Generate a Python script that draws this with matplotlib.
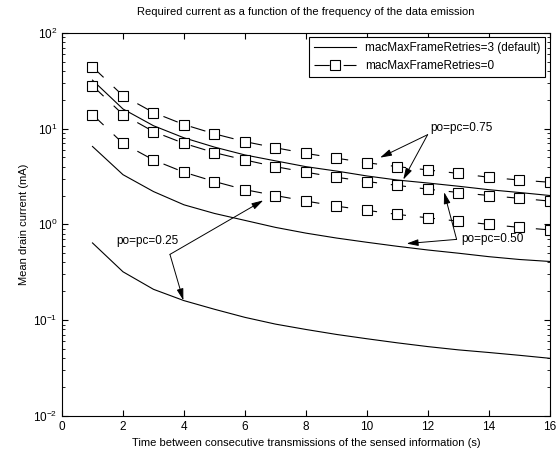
import numpy as np
import matplotlib
matplotlib.use("Agg")
from matplotlib import pyplot as plt

plt.rcParams['font.family'] = ['Liberation Sans', 'DejaVu Sans']
plt.rcParams['mathtext.fontset'] = 'custom'
plt.rcParams['mathtext.rm'] = 'Liberation Sans'
plt.rcParams['mathtext.default'] = 'regular'
plt.rcParams['lines.scale_dashes'] = False

# time between transmissions (s)
t = [1, 2, 3, 4, 5, 6, 7, 8, 9, 10, 11, 12, 13, 14, 15, 16]

# macMaxFrameRetries=3 (default), mean current (mA)
retries3_075 = [32, 16, 10.7, 8.0, 6.4, 5.3, 4.6, 4.0, 3.6, 3.2, 2.9, 2.7, 2.5, 2.3, 2.15, 2.0]
retries3_050 = [6.5, 3.3, 2.2, 1.6, 1.3, 1.1, 0.93, 0.81, 0.72, 0.65, 0.59, 0.54, 0.50, 0.46, 0.43, 0.41]
retries3_025 = [0.64, 0.32, 0.21, 0.16, 0.13, 0.107, 0.091, 0.08, 0.071, 0.064, 0.058, 0.053, 0.049, 0.046, 0.043, 0.040]

# macMaxFrameRetries=0
retries0_075 = [44, 22, 14.7, 11, 8.8, 7.3, 6.3, 5.5, 4.9, 4.4, 4.0, 3.7, 3.4, 3.1, 2.9, 2.75]
retries0_050 = [28, 14, 9.3, 7.0, 5.6, 4.7, 4.0, 3.5, 3.1, 2.8, 2.55, 2.33, 2.15, 2.0, 1.87, 1.75]
retries0_025 = [14, 7.0, 4.7, 3.5, 2.8, 2.3, 2.0, 1.75, 1.55, 1.4, 1.27, 1.17, 1.08, 1.0, 0.93, 0.875]

fig = plt.figure(figsize=(5.6, 4.57), dpi=100)
ax = fig.add_axes([0.1107, 0.0897, 0.8713, 0.8387])

solid = dict(color='k', lw=0.8)
dashed = dict(color='k', lw=0.8, marker='s', markersize=6.5, markerfacecolor='white',
              markeredgecolor='k', markeredgewidth=0.8, dashes=(11, 10))

ax.plot(t, retries3_075, label='macMaxFrameRetries=3 (default)', **solid)
ax.plot(t, retries0_075, label='macMaxFrameRetries=0', **dashed)
ax.plot(t, retries3_050, **solid)
ax.plot(t, retries0_050, **dashed)
ax.plot(t, retries3_025, **solid)
ax.plot(t, retries0_025, **dashed)

ax.set_yscale('log')
ax.set_xlim(0, 16)
ax.set_ylim(1e-2, 1e2)
ax.set_xticks(range(0, 17, 2))
ax.tick_params(which='both', direction='in', top=True, right=True, labelsize=8.5)
ax.tick_params(which='major', length=4)
ax.tick_params(which='minor', length=2)

ax.set_title('Required current as a function of the frequency of the data emission', fontsize=8, pad=13)
ax.set_xlabel('Time between consecutive transmissions of the sensed information (s)', fontsize=8, labelpad=4)
ax.set_ylabel('Mean drain current (mA)', fontsize=8, labelpad=3)

leg = ax.legend(loc='upper right', fontsize=8.5, fancybox=False, edgecolor='k',
                framealpha=1, handlelength=3.5, borderaxespad=0.4)
leg.get_frame().set_linewidth(0.8)

arrow = dict(arrowstyle='-|>,head_length=0.7,head_width=0.2', color='k', lw=0.7,
             shrinkA=0, shrinkB=0)

# po=pc=0.75
ax.text(12.07, 10.05, 'po=pc=0.75', fontsize=8.5, va='center', ha='left')
ax.annotate('', xy=(10.43, 4.97), xytext=(11.99, 8.63), arrowprops=arrow)
ax.annotate('', xy=(11.19, 2.93), xytext=(11.99, 8.63), arrowprops=arrow)

# po=pc=0.50
ax.text(13.1, 0.70, 'po=pc=0.50', fontsize=8.5, va='center', ha='left')
ax.annotate('', xy=(11.3, 0.63), xytext=(12.94, 0.697), arrowprops=arrow)
ax.annotate('', xy=(12.53, 2.17), xytext=(12.94, 0.697), arrowprops=arrow)

# po=pc=0.25
ax.text(1.77, 0.67, 'po=pc=0.25', fontsize=8.5, va='center', ha='left')
ax.annotate('', xy=(6.6, 1.78), xytext=(3.54, 0.486), arrowprops=arrow)
ax.annotate('', xy=(3.98, 0.161), xytext=(3.54, 0.486), arrowprops=arrow)

fig.savefig('out.png', dpi=100)
